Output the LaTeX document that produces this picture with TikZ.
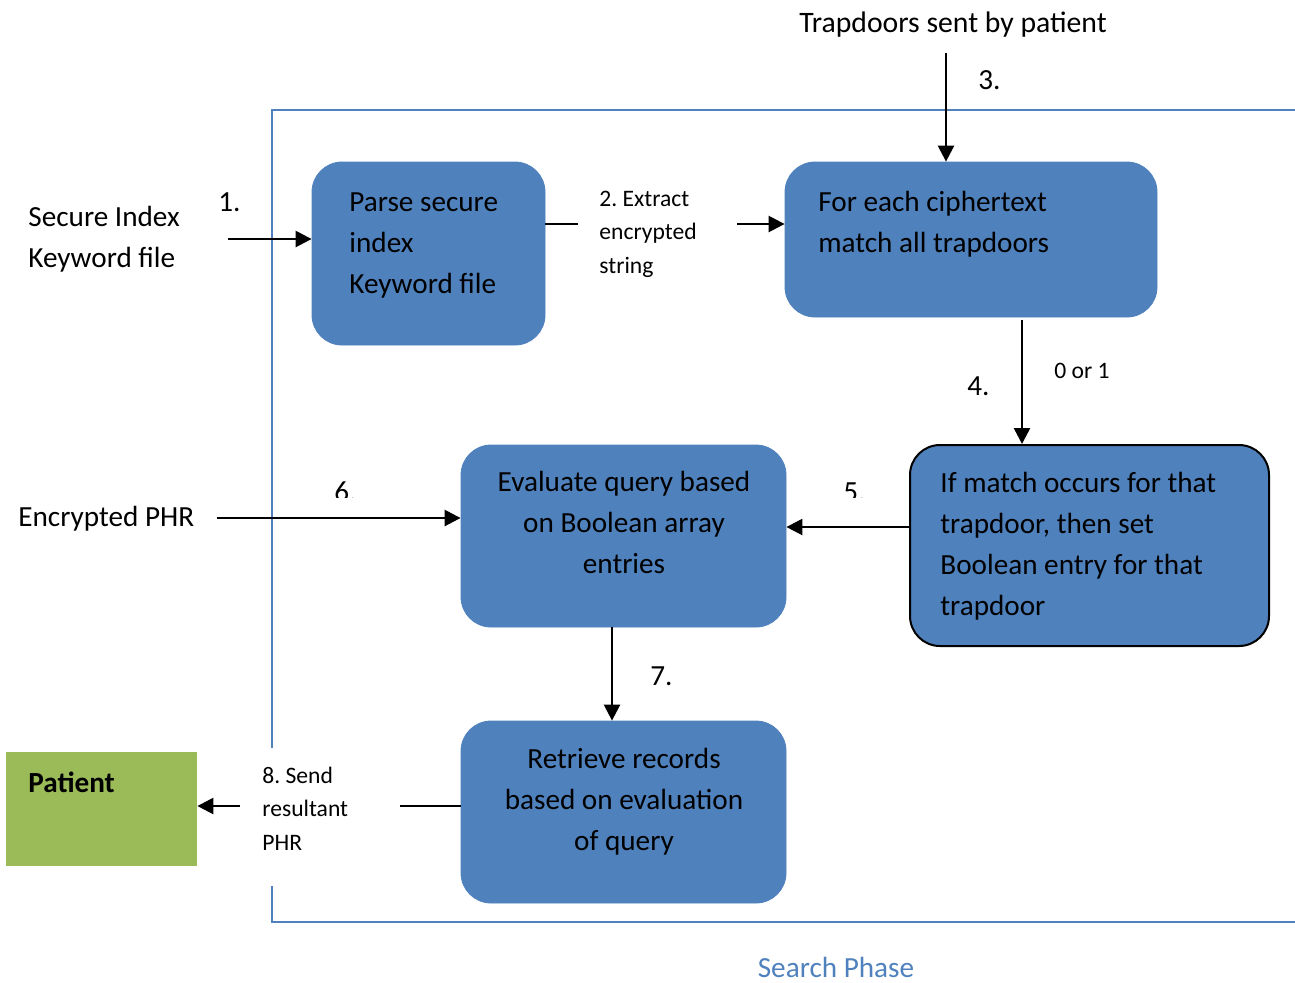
\documentclass[tikz,border=0pt]{standalone}
\usepackage{fontspec}
\setmainfont{Carlito}
\usetikzlibrary{arrows.meta}
\definecolor{stepblue}{HTML}{4F81BD}
\definecolor{patgreen}{HTML}{9BBB59}
% keep the font's own interword space, also inside wrapped nodes
\newcommand{\naturalspaces}{\spaceskip=\fontdimen2\font\relax\xspaceskip=\spaceskip}
\newcommand{\bigtxt}{\fontsize{14.6}{20.5}\selectfont}
\newcommand{\headtxt}{\fontsize{14.85}{20.5}\selectfont}
\newcommand{\smalltxt}{\fontsize{11.8}{16.75}\selectfont}
\frenchspacing
\begin{document}
\begin{tikzpicture}[x=0.5pt,y=-0.5pt,
  stepbox/.style={fill=stepblue,draw=stepblue,rounded corners=15pt,inner sep=0pt},
  txt/.style={inner sep=0pt,font=\bigtxt,execute at begin node=\naturalspaces},
  smalltext/.style={inner sep=0pt,font=\smalltxt,execute at begin node=\naturalspaces},
  arr/.style={line width=1.25pt,-{Triangle[length=8pt,width=8pt]}},
  plain/.style={line width=1.25pt},
  frameline/.style={draw=stepblue,line width=1pt}]
\useasboundingbox (0,0) rectangle (1295,982);

% phase frame (open on the right, broken where step 8 leaves it)
\coordinate (fTR) at (1295,110);
\coordinate (fTL) at (272,110);
\coordinate (fGapTop) at (272,748);
\coordinate (fGapBot) at (272,886);
\coordinate (fBL) at (272,922);
\coordinate (fBR) at (1295,922);
\draw[frameline] (fTR) -- (fTL) -- (fGapTop);
\draw[frameline] (fGapBot) -- (fBL) -- (fBR);

% process boxes
\node[stepbox,minimum width=116.5pt,minimum height=91.5pt] (parse) at (428.5,253.5) {};
\node[stepbox,minimum width=186pt,minimum height=77.5pt] (match) at (971,239.5) {};
\node[stepbox,draw=black,line width=1pt,minimum width=179.5pt,minimum height=100.5pt] (setbool) at (1089.5,545.5) {};
\node[stepbox,minimum width=162.5pt,minimum height=91pt] (eval) at (623.5,536) {};
\node[stepbox,minimum width=162.5pt,minimum height=91pt] (retr) at (623.5,812) {};
\node[fill=patgreen,inner sep=0pt,minimum width=95.5pt,minimum height=57pt] (patient) at (101.5,809) {};

% box texts
\node[txt,text width=95pt,align=left,anchor=base west] (parse-t) at (349,211) {Parse secure\\index\\Keyword file};
\node[txt,text width=160pt,align=left,anchor=base west] (match-t) at (818,211) {For each ciphertext\\match all trapdoors};
\node[txt,text width=160pt,align=left,anchor=base west] (setbool-t) at (940,492) {If match occurs for that\\trapdoor, then set\\Boolean entry for that\\trapdoor};
\node[txt,text width=150pt,align=center,anchor=base] (eval-t) at (624,491) {Evaluate query based\\on Boolean array\\entries};
\node[txt,text width=150pt,align=center,anchor=base] (retr-t) at (624,768) {Retrieve records\\based on evaluation\\of query};
\node[txt,anchor=base west,font=\bigtxt\bfseries] (patient-t) at (28,792) {Patient};

% outside inputs
\node[txt,text width=90pt,align=left,anchor=base west] (secidx) at (28,226) {Secure Index\\Keyword file};
\node[txt,anchor=base,font=\headtxt] (trap) at (953,32) {Trapdoors sent by patient};
\node[txt,anchor=base west] (encphr) at (18,526) {Encrypted PHR};
\node[txt,anchor=base,text=stepblue] (phase) at (836,977) {Search Phase};

% step labels
\node[txt,anchor=base west] (n1) at (218,211) {1.};
\node[smalltext,text width=60pt,align=left,anchor=base west] (n2) at (599,206) {2. Extract\\encrypted\\string};
\node[txt,anchor=base west] (n3) at (978,89) {3.};
\node[txt,anchor=base west] (n4) at (967,395) {4.};
\node[smalltext,anchor=base west] (n4b) at (1054,378) {0 or 1};
\begin{scope}
  \clip (300,440) rectangle (900,497.5);
  \node[txt,anchor=base west] (n5) at (843,501) {5.};
  \node[txt,anchor=base west] (n6) at (334,501) {6.};
\end{scope}
\node[txt,anchor=base west] (n7) at (650,685) {7.};
\node[smalltext,text width=60pt,align=left,anchor=base west] (n8) at (262,783) {8. Send\\resultant\\PHR};

% connectors
\coordinate (c1) at (228,239);
\draw[arr] (c1) -- (parse.west |- c1);

\coordinate (c2a) at (578,224);
\coordinate (c2b) at (737,224);
\draw[plain] (parse.east |- c2a) -- (c2a);
\draw[arr] (c2b) -- (match.west |- c2b);

\coordinate (c3) at (946,53);
\draw[arr] (c3) -- (match.north -| c3);

\coordinate (c4) at (1022,320);
\draw[arr] (c4) -- (setbool.north -| c4);

\coordinate (c5) at (900,527);
\draw[arr] (setbool.west |- c5) -- (eval.east |- c5);

\coordinate (c6) at (217,518);
\draw[arr] (c6) -- (eval.west |- c6);

\coordinate (c7) at (612,630);
\draw[arr] (eval.south -| c7) -- (retr.north -| c7);

\coordinate (c8a) at (400,806);
\coordinate (c8b) at (240,806);
\draw[plain] (retr.west |- c8a) -- (c8a);
\draw[arr] (c8b) -- (patient.east |- c8b);
\end{tikzpicture}
\end{document}
